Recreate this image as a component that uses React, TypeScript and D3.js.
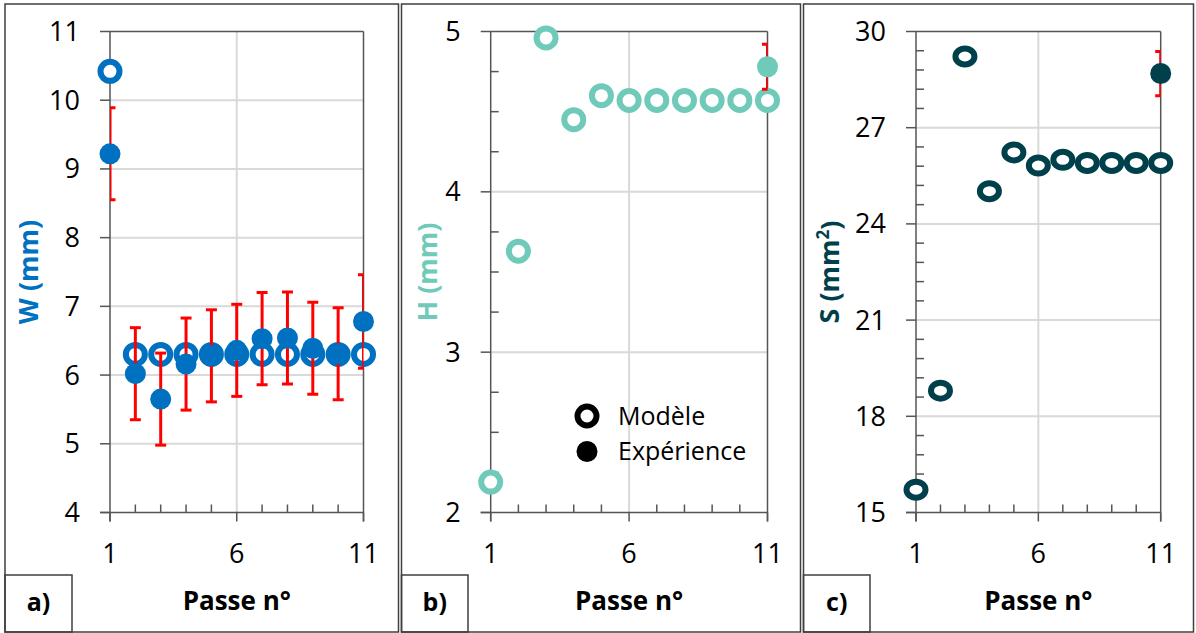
import React from "react";
import * as d3 from "d3";

const passes = [1, 2, 3, 4, 5, 6, 7, 8, 9, 10, 11];
const xTicks = [1, 6, 11];

const wModel = [10.42, 6.3, 6.3, 6.3, 6.3, 6.3, 6.3, 6.3, 6.3, 6.3, 6.3];
const wExp = [9.22, 6.02, 5.65, 6.16, 6.28, 6.36, 6.53, 6.54, 6.39, 6.31, 6.78];
const wErr = [0.67, 0.67, 0.67, 0.67, 0.67, 0.67, 0.67, 0.67, 0.67, 0.67, 0.68];
const wTicks = [4, 5, 6, 7, 8, 9, 10, 11];

const hModel = [2.19, 3.63, 4.96, 4.45, 4.6, 4.57, 4.57, 4.57, 4.57, 4.57, 4.57];
const hExp: (number | null)[] = [null, null, null, null, null, null, null, null, null, null, 4.78];
const hErr = [0, 0, 0, 0, 0, 0, 0, 0, 0, 0, 0.14];
const hTicks = [2, 3, 4, 5];

const sModel = [15.71, 18.8, 29.22, 25.02, 26.23, 25.82, 26.0, 25.9, 25.9, 25.9, 25.9];
const sExp: (number | null)[] = [null, null, null, null, null, null, null, null, null, null, 28.69];
const sErr = [0, 0, 0, 0, 0, 0, 0, 0, 0, 0, 0.69];
const sTicks = [15, 18, 21, 24, 27, 30];

const legendLabels = ["Modèle", "Expérience"];

const FONT = "'Open Sans', 'Noto Sans', sans-serif";
const AXIS = "#555555";
const GRID = "#d9d9d9";
const BORDER = "#3f3f3f";
const ERR = "#ff0000";

type PanelProps = {
  id: string;
  frame: [number, number, number, number];
  plotX: [number, number];
  plotY: [number, number];
  labelBoxRight: number;
  yDomain: [number, number];
  yTicks: number[];
  minorStep: number | null;
  model: number[];
  exp: (number | null)[];
  err: number[];
  color: string;
  yTitle: React.ReactNode;
  titleX: number;
  letter: string;
  ringRx: number;
  ringRy: number;
  legend?: boolean;
};

function Panel(p: PanelProps) {
  const [fx0, fy0, fx1, fy1] = p.frame;
  const x = d3.scaleLinear().domain([1, 11]).range(p.plotX);
  const y = d3.scaleLinear().domain(p.yDomain).range([p.plotY[1], p.plotY[0]]);
  const [px0, px1] = p.plotX;
  const [py0, py1] = p.plotY;
  const minors: number[] = [];
  if (p.minorStep) {
    const n = Math.round((p.yDomain[1] - p.yDomain[0]) / p.minorStep);
    for (let i = 1; i < n; i++) {
      const v = p.yDomain[0] + i * p.minorStep;
      if (!p.yTicks.some((t) => Math.abs(t - v) < 1e-6)) minors.push(v);
    }
  }
  const gridY = p.yTicks.filter((t) => t !== p.yDomain[0] && t !== p.yDomain[1]);
  const clipId = `clip-${p.id}`;
  const cx = (px0 + px1) / 2;
  const ringStroke = 6;
  return (
    <g>
      <defs>
        <clipPath id={clipId}>
          <rect x={px0} y={py0} width={px1 - px0} height={py1 - py0} />
        </clipPath>
      </defs>
      <rect x={fx0} y={fy0} width={fx1 - fx0} height={fy1 - fy0} fill="white" stroke={BORDER} strokeWidth={1.5} />
      {gridY.map((t) => (
        <line key={`g${t}`} x1={px0} x2={px1} y1={y(t)} y2={y(t)} stroke={GRID} strokeWidth={2} />
      ))}
      <line x1={x(6)} x2={x(6)} y1={py0} y2={py1} stroke={GRID} strokeWidth={2} />
      <line x1={px0} x2={px1} y1={py0} y2={py0} stroke={AXIS} strokeWidth={1.5} />
      <line x1={px1} x2={px1} y1={py0} y2={py1 + 9} stroke={AXIS} strokeWidth={1.5} />
      <line x1={px0} x2={px0} y1={py0} y2={py1 + 9} stroke={AXIS} strokeWidth={1.5} />
      <line x1={px0 - 10} x2={px1} y1={py1} y2={py1} stroke={AXIS} strokeWidth={1.5} />
      {p.yTicks.map((t) => (
        <g key={`yt${t}`}>
          <line x1={px0 - 10} x2={px0} y1={y(t)} y2={y(t)} stroke={AXIS} strokeWidth={1.5} />
          <text x={px0 - 30} y={y(t)} dy="0.35em" textAnchor="end" fontFamily={FONT} fontSize={27} fill="#000">
            {t}
          </text>
        </g>
      ))}
      {minors.map((t) => (
        <line key={`ym${t}`} x1={px0} x2={px0 + 8} y1={y(t)} y2={y(t)} stroke={AXIS} strokeWidth={1.5} />
      ))}
      {passes.map((v) =>
        xTicks.includes(v) ? (
          <line key={`xt${v}`} x1={x(v)} x2={x(v)} y1={py1} y2={py1 + 9} stroke={AXIS} strokeWidth={1.5} />
        ) : (
          <line key={`xt${v}`} x1={x(v)} x2={x(v)} y1={py1 - 8} y2={py1} stroke={AXIS} strokeWidth={1.5} />
        )
      )}
      {xTicks.map((v) => (
        <text key={`xl${v}`} x={x(v)} y={563} textAnchor="middle" fontFamily={FONT} fontSize={27} fill="#000">
          {v}
        </text>
      ))}
      {p.model.map((v, i) => (
        <ellipse
          key={`m${i}`}
          cx={x(passes[i])}
          cy={y(v)}
          rx={p.ringRx}
          ry={p.ringRy}
          fill="white"
          stroke={p.color}
          strokeWidth={ringStroke}
        />
      ))}
      <g clipPath={`url(#${clipId})`}>
        {p.exp.map((v, i) =>
          v == null ? null : (
            <g key={`e${i}`}>
              <line x1={x(passes[i])} x2={x(passes[i])} y1={y(v - p.err[i])} y2={y(v + p.err[i])} stroke={ERR} strokeWidth={3} />
              <line x1={x(passes[i]) - 5.5} x2={x(passes[i]) + 5.5} y1={y(v + p.err[i])} y2={y(v + p.err[i])} stroke={ERR} strokeWidth={3} />
              <line x1={x(passes[i]) - 5.5} x2={x(passes[i]) + 5.5} y1={y(v - p.err[i])} y2={y(v - p.err[i])} stroke={ERR} strokeWidth={3} />
            </g>
          )
        )}
      </g>
      {p.exp.map((v, i) =>
        v == null ? null : <circle key={`x${i}`} cx={x(passes[i])} cy={y(v)} r={10.5} fill={p.color} />
      )}
      <text
        transform={`translate(${p.titleX},272) rotate(-90)`}
        textAnchor="middle"
        dy="0.35em"
        fontFamily={FONT}
        fontWeight="bold"
        fontSize={27}
        fill={p.color}
      >
        {p.yTitle}
      </text>
      <text x={cx} y={610} textAnchor="middle" fontFamily={FONT} fontWeight="bold" fontSize={26} fill="#000">
        Passe n°
      </text>
      <rect x={fx0} y={575} width={p.labelBoxRight - fx0} height={fy1 - 575} fill="none" stroke={BORDER} strokeWidth={1.5} />
      <text x={(fx0 + p.labelBoxRight) / 2} y={611} textAnchor="middle" fontFamily={FONT} fontWeight="bold" fontSize={25} fill="#000">
        {p.letter}
      </text>
      {p.legend && (
        <g>
          <circle cx={587} cy={416} r={9.5} fill="white" stroke="#000" strokeWidth={ringStroke} />
          <circle cx={587} cy={451.5} r={10.5} fill="#000" />
          <text x={618} y={416} dy="0.35em" fontFamily={FONT} fontSize={25} fill="#000">
            {legendLabels[0]}
          </text>
          <text x={618} y={451.5} dy="0.35em" fontFamily={FONT} fontSize={25} fill="#000">
            {legendLabels[1]}
          </text>
        </g>
      )}
    </g>
  );
}

export default function App() {
  return (
    <svg
      width={1196}
      height={633}
      style={{ position: "absolute", left: 0, top: 0, background: "white" }}
    >
      <rect x={0} y={0} width={1196} height={633} fill="white" />
      <Panel
        id="a"
        frame={[5, 4, 398.5, 632]}
        plotX={[110, 363.5]}
        plotY={[31.5, 512.5]}
        labelBoxRight={72}
        yDomain={[4, 11]}
        yTicks={wTicks}
        minorStep={null}
        model={wModel}
        exp={wExp}
        err={wErr}
        color="#0070c0"
        yTitle="W (mm)"
        titleX={29}
        letter="a)"
        ringRx={9.5}
        ringRy={9.5}
      />
      <Panel
        id="b"
        frame={[401.5, 4, 800.5, 632]}
        plotX={[490.7, 767.5]}
        plotY={[31.5, 512.5]}
        labelBoxRight={468}
        yDomain={[2, 5]}
        yTicks={hTicks}
        minorStep={0.25}
        model={hModel}
        exp={hExp}
        err={hErr}
        color="#70cab9"
        yTitle="H (mm)"
        titleX={428}
        letter="b)"
        ringRx={9.5}
        ringRy={9.5}
        legend
      />
      <Panel
        id="c"
        frame={[803.5, 4, 1193.5, 632]}
        plotX={[916, 1160.7]}
        plotY={[31.5, 512.5]}
        labelBoxRight={870}
        yDomain={[15, 30]}
        yTicks={sTicks}
        minorStep={0.6}
        model={sModel}
        exp={sExp}
        err={sErr}
        color="#00404b"
        yTitle={
          <>
            S (mm<tspan fontSize={17} dy="-0.6em">2</tspan>
            <tspan dy="0.38em">)</tspan>
          </>
        }
        titleX={830}
        letter="c)"
        ringRx={9.5}
        ringRy={8}
      />
    </svg>
  );
}
